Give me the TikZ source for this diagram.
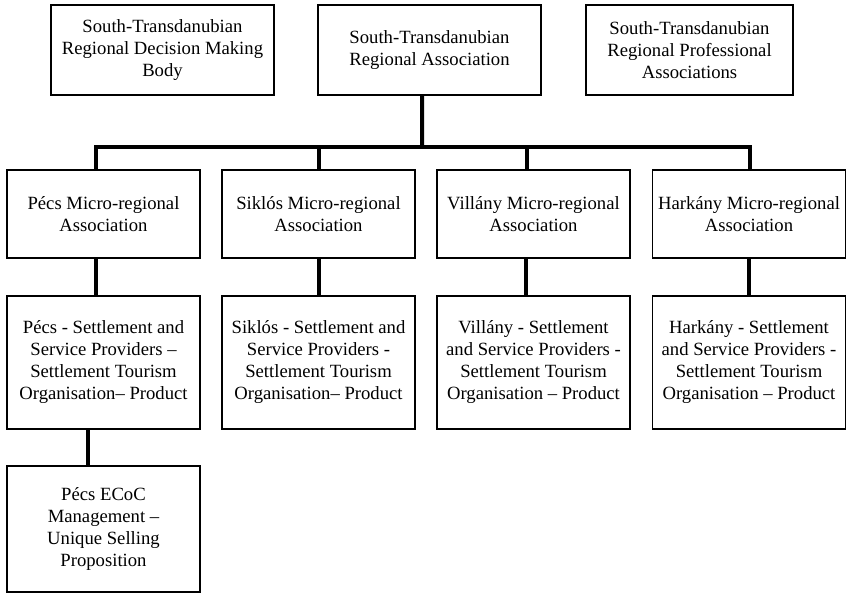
\documentclass[tikz,border=0pt]{standalone}
\usepackage{fontspec}
\setmainfont{Liberation Serif}
\tikzset{every picture/.style={line width=0.75pt}}
\tikzset{
  orgbox/.style={draw, line width=1pt, align=center, inner sep=0pt,
    font=\fontsize{14pt}{16.5pt}\selectfont},
  link/.style={line width=3pt}
}
\begin{document}
\begin{tikzpicture}[x=0.75pt,y=0.75pt,yscale=-1,xscale=1]
        \useasboundingbox (0,0) rectangle (849,593);
        % Top level
        \node [orgbox, minimum width=167.25pt, minimum height=67.5pt] (decision) at (162.5,50) {South-Transdanubian\\Regional Decision Making\\Body};
        \node [orgbox, minimum width=167.25pt, minimum height=67.5pt] (region) at (429.5,50) {South-Transdanubian\\Regional Association};
        \node [orgbox, minimum width=155.25pt, minimum height=67.5pt] (prof) at (689.5,50) {South-Transdanubian\\Regional Professional\\Associations};

        % Micro-regional associations
        \node [orgbox, minimum width=144.75pt, minimum height=66pt] (pecs) at (103.5,214) {Pécs Micro-regional\\Association};
        \node [orgbox, minimum width=144.75pt, minimum height=66pt] (siklos) at (318.5,214) {Siklós Micro-regional\\Association};
        \node [orgbox, minimum width=144.75pt, minimum height=66pt] (villany) at (533.5,214) {Villány Micro-regional\\Association};
        \node [orgbox, minimum width=144.75pt, minimum height=66pt] (harkany) at (749,214) {Harkány Micro-regional\\Association};

        % Settlements
        \node [orgbox, minimum width=144.75pt, minimum height=99.75pt] (pecsset) at (103.5,362.5) {Pécs - Settlement and\\Service Providers –\\Settlement Tourism\\Organisation– Product};
        \node [orgbox, minimum width=144.75pt, minimum height=99.75pt] (siklosset) at (318.5,362.5) {Siklós - Settlement and\\Service Providers -\\Settlement Tourism\\Organisation– Product};
        \node [orgbox, minimum width=144.75pt, minimum height=99.75pt] (villanyset) at (533.5,362.5) {Villány - Settlement\\and Service Providers -\\Settlement Tourism\\Organisation – Product};
        \node [orgbox, minimum width=144.75pt, minimum height=99.75pt] (harkanyset) at (749,362.5) {Harkány - Settlement\\and Service Providers -\\Settlement Tourism\\Organisation – Product};

        % ECoC
        \node [orgbox, minimum width=144.75pt, minimum height=94.5pt] (ecoc) at (103.5,529) {Pécs ECoC\\Management –\\Unique Selling\\Proposition};

        % Connectors
        \coordinate (bus) at (422,147);
        \draw [link] ([xshift=-5.6pt]region.south) -- (bus);
        \draw [link] ([xshift=-5.6pt]pecs.north) |- (bus) -| ([xshift=0.75pt]harkany.north);
        \draw [link] (siklos.north) -- (siklos.north |- bus);
        \draw [link] ([xshift=-4.9pt]villany.north) -- ([xshift=-4.9pt]villany.north |- bus);
        \draw [link] ([xshift=-5.6pt]pecs.south) -- ([xshift=-5.6pt]pecsset.north);
        \draw [link] (siklos.south) -- (siklosset.north);
        \draw [link] ([xshift=-5.6pt]villany.south) -- ([xshift=-5.6pt]villanyset.north);
        \draw [link] (harkany.south) -- (harkanyset.north);
        \draw [link] ([xshift=-11.6pt]pecsset.south) -- ([xshift=-11.6pt]ecoc.north);
\end{tikzpicture}
\end{document}
